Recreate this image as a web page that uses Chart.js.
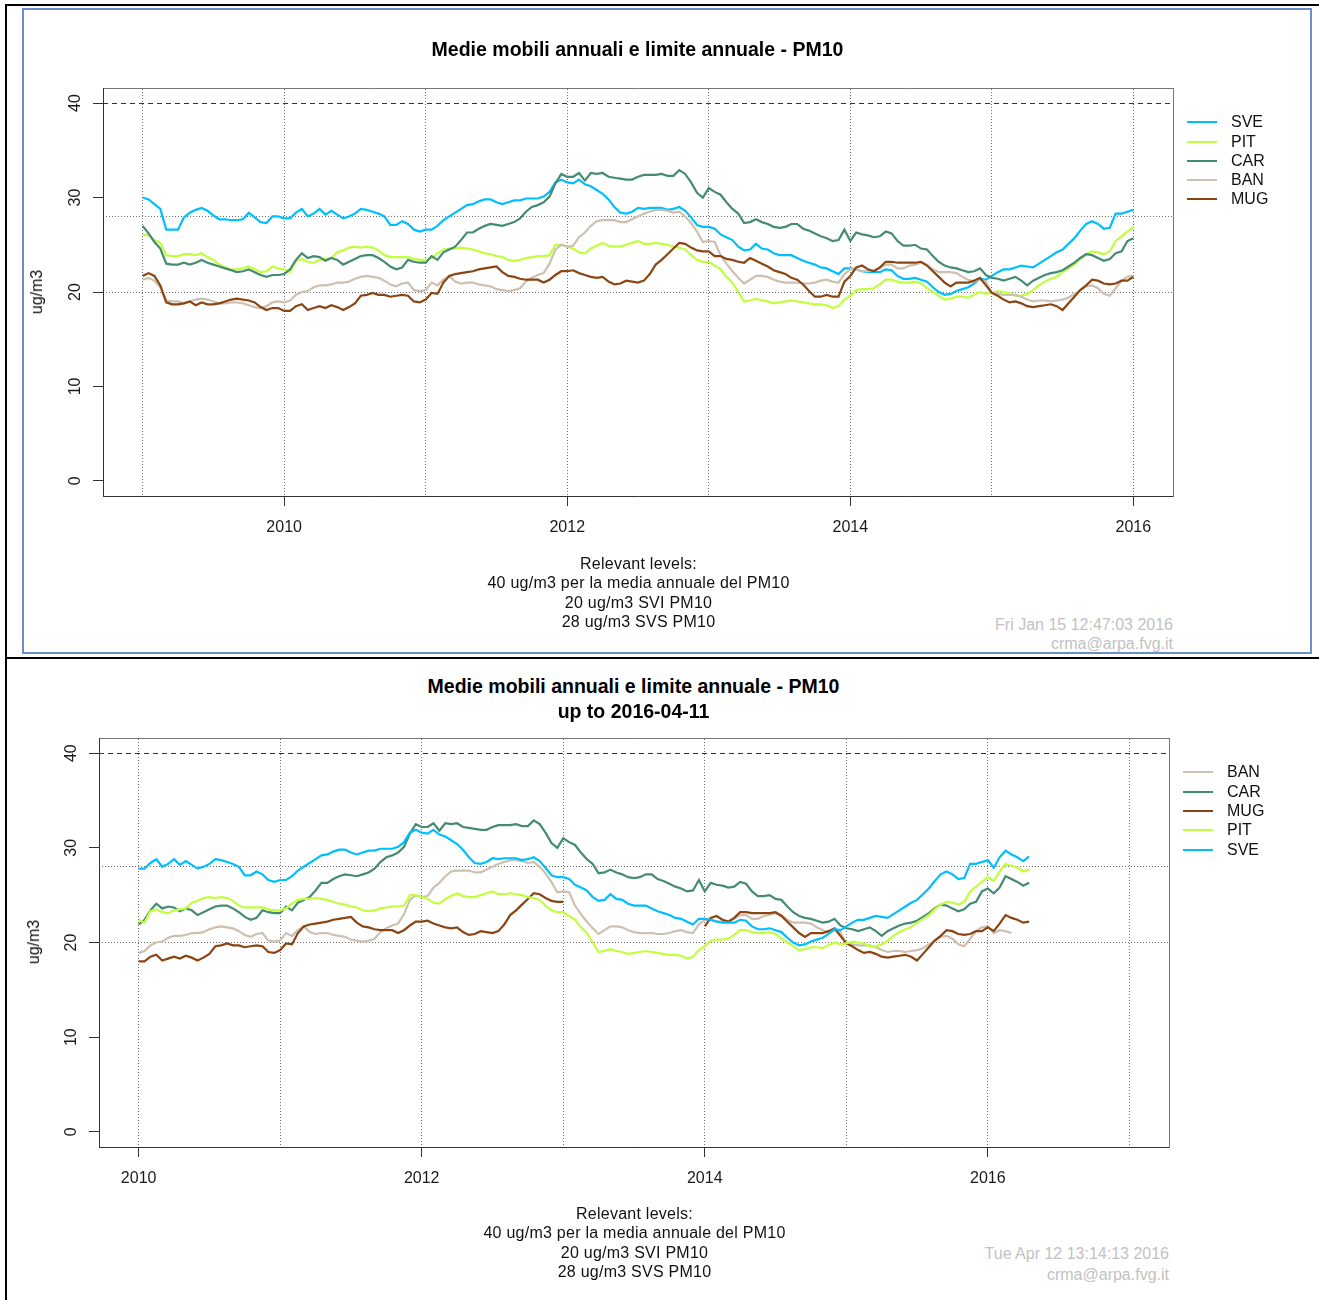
<!DOCTYPE html>
<html><head><meta charset="utf-8">
<script src="https://cdn.jsdelivr.net/npm/chart.js@4.4.1/dist/chart.umd.min.js"></script>
<style>
html,body{margin:0;padding:0;background:#fff;}
#page{position:relative;width:1319px;height:1300px;overflow:hidden;font-family:'Liberation Sans',Arial,Helvetica,sans-serif;color:#111;}
.box{position:absolute;}
.c{position:absolute;transform:translate(-50%,-50%);white-space:nowrap;line-height:1;}
.r{position:absolute;transform:translate(-100%,-50%);white-space:nowrap;line-height:1;}
.l{position:absolute;transform:translate(0,-50%);white-space:nowrap;line-height:1;}
canvas{position:absolute;}
</style></head>
<body><div id="page">
<div class="box" style="left:5px;top:4px;width:1314px;height:2px;background:#000"></div>
<div class="box" style="left:5px;top:4px;width:2px;height:1296px;background:#000"></div>
<div class="box" style="left:5px;top:657px;width:1314px;height:2px;background:#000"></div>
<div class="box" style="left:22px;top:8px;width:1290px;height:646px;border:2px solid #6a8dcc;box-sizing:border-box"></div>
<canvas id="c1" width="1200" height="500" style="left:23px;top:60px;width:1200px;height:500px"></canvas>
<canvas id="c2" width="1200" height="500" style="left:19px;top:710px;width:1200px;height:500px"></canvas>
</div>
<script>
// ---------- data ----------
const T0 = 2009, STEP = 1 / 24;            // semi-monthly samples starting 2009-01
const dates = Array.from({length: 176}, (_, i) => +(T0 + i * STEP).toFixed(4));

const stationsTop = ['SVE', 'PIT', 'CAR', 'BAN', 'MUG'];
const stationsBottom = ['BAN', 'CAR', 'MUG', 'PIT', 'SVE'];

const sve = [30.0,29.8,29.3,28.8,26.6,26.6,26.6,27.9,28.4,28.7,28.9,28.6,28.1,27.7,27.7,27.6,27.6,27.7,28.4,27.9,27.4,27.3,28.0,28.0,
 27.8,27.8,28.4,28.8,28.0,28.3,28.8,28.2,28.6,28.2,27.8,28.0,28.3,28.8,28.7,28.5,28.3,28.0,27.1,27.1,27.5,27.2,26.6,26.4,
 26.6,26.6,27.0,27.6,28.0,28.4,28.8,29.2,29.3,29.6,29.8,29.8,29.5,29.3,29.5,29.7,29.7,29.9,29.9,29.9,30.1,30.6,31.6,31.9,
 31.6,31.5,31.9,31.4,31.2,30.8,30.4,29.8,29.0,28.4,28.3,28.5,28.9,28.8,28.9,28.9,28.9,28.7,28.8,29.0,28.6,27.9,27.1,26.9,
 26.9,26.7,26.1,25.8,25.5,24.8,24.4,24.5,25.1,24.6,24.5,24.1,23.9,23.9,23.9,23.6,23.3,23.1,22.9,22.6,22.5,22.2,21.9,22.5,
 22.5,22.4,22.2,22.1,22.1,22.1,22.4,22.3,21.7,21.4,21.4,21.5,21.3,21.1,20.5,20.0,19.7,19.8,20.1,20.3,20.5,20.9,21.4,21.3,
 21.7,22.1,22.4,22.4,22.6,22.8,22.7,22.6,23.0,23.4,23.8,24.2,24.5,25.1,25.7,26.5,27.2,27.5,27.2,26.7,26.8,28.3,28.3,28.5,28.7];
const pit = [26.1,26.0,25.5,25.2,23.9,23.8,23.8,24.0,24.0,23.9,24.1,23.7,23.4,22.9,22.6,22.4,22.4,22.5,22.7,22.4,22.1,22.2,22.7,22.5,
 22.4,22.1,23.3,23.5,23.2,23.1,23.4,23.5,23.6,24.2,24.4,24.7,24.8,24.7,24.8,24.7,24.4,23.9,23.7,23.7,23.7,23.7,23.5,23.4,
 23.4,23.6,24.1,24.5,24.6,24.6,24.7,24.6,24.5,24.3,24.1,24.0,23.8,23.7,23.4,23.3,23.4,23.6,23.7,23.8,23.8,23.9,25.0,25.0,
 24.8,24.6,24.2,24.1,24.6,24.9,25.2,24.9,24.8,24.8,25.0,25.2,25.4,25.1,25.1,25.2,25.1,25.0,24.8,24.7,24.5,23.9,23.4,23.2,
 23.2,22.8,22.4,21.6,21.0,20.0,19.0,19.1,19.3,19.1,19.0,18.8,18.9,19.0,19.1,19.0,18.9,18.8,18.7,18.7,18.6,18.3,18.5,19.2,
 19.6,20.2,20.3,20.3,20.4,20.8,21.3,21.3,21.1,21.0,21.0,21.1,20.9,20.4,20.0,19.6,19.2,19.3,19.5,19.5,19.4,19.7,20.0,19.8,
 19.9,20.1,20.0,19.9,19.6,19.6,19.8,20.2,20.7,21.1,21.4,21.6,22.1,22.5,22.9,23.5,24.0,24.3,24.2,24.0,24.3,25.4,25.9,26.4,26.9];
const car = [27.0,26.2,25.3,24.6,23.0,22.9,22.9,23.1,22.9,23.1,23.4,23.1,22.9,22.7,22.5,22.3,22.1,22.2,22.4,22.1,21.8,21.6,21.8,21.8,
 21.9,22.4,23.4,24.1,23.6,23.8,23.7,23.3,23.6,23.4,22.9,23.2,23.5,23.8,23.9,23.9,23.6,23.2,22.7,22.4,22.6,23.4,23.2,23.1,
 23.1,23.8,23.4,24.2,24.5,24.8,25.5,26.3,26.3,26.7,27.0,27.2,27.1,27.0,27.2,27.4,27.8,28.5,29.0,29.2,29.5,30.1,31.5,32.5,
 32.2,32.2,32.6,31.8,32.6,32.5,32.6,32.2,32.1,32.0,31.9,31.9,32.2,32.4,32.4,32.4,32.5,32.3,32.3,32.9,32.5,31.6,30.5,30.0,
 31.0,30.6,30.3,29.5,28.8,28.3,27.3,27.4,27.7,27.4,27.2,26.9,26.8,26.9,27.2,27.2,26.7,26.5,26.2,25.9,25.7,25.4,25.5,26.6,
 25.4,26.3,26.1,26.0,25.8,25.9,26.4,26.2,25.4,24.9,24.9,25.0,24.6,24.5,23.8,23.2,22.8,22.6,22.5,22.3,22.1,22.2,22.5,21.8,
 21.5,21.4,21.2,21.4,21.6,21.2,20.7,21.2,21.5,21.8,22.0,22.1,22.3,22.7,23.1,23.6,24.0,23.9,23.6,23.3,23.5,24.1,24.3,25.4,25.7];
const ban = [21.3,21.5,21.2,20.5,19.1,19.0,19.0,18.8,19.0,19.2,19.3,19.2,19.0,18.8,18.8,18.9,18.9,18.8,18.6,18.4,18.3,18.5,18.9,19.0,
 18.9,19.1,19.7,20.0,20.1,20.5,20.7,20.7,20.8,21.0,21.0,21.1,21.4,21.6,21.7,21.6,21.5,21.2,20.8,20.6,20.9,21.0,20.2,20.1,
 20.2,21.0,20.7,21.3,21.7,21.1,20.9,21.0,21.0,20.8,20.7,20.6,20.3,20.2,20.1,20.2,20.4,21.1,21.5,21.8,22.0,23.0,24.5,25.0,
 24.8,24.9,25.8,26.3,27.0,27.5,27.6,27.6,27.6,27.4,27.4,27.7,28.0,28.3,28.5,28.7,28.7,28.6,28.4,28.5,28.0,27.3,26.4,25.3,
 25.4,25.3,23.9,23.0,22.2,21.5,20.9,21.3,21.7,21.7,21.6,21.3,21.1,21.0,21.0,21.0,20.9,20.9,21.0,21.2,21.3,21.1,21.0,21.9,
 22.4,22.4,22.2,22.2,22.3,22.5,22.9,22.9,22.5,22.5,22.8,22.9,23.1,22.9,22.4,22.1,22.1,22.1,22.0,21.6,21.3,21.1,21.3,21.1,
 19.9,19.8,19.7,19.7,19.7,19.5,19.2,19.0,19.1,19.1,19.0,19.1,19.2,19.4,19.8,20.2,20.6,20.7,20.4,19.8,19.6,20.4,21.2,21.6,21.7];
const mug = [21.7,22.0,21.7,20.7,18.9,18.7,18.7,18.8,19.0,18.6,18.9,18.7,18.7,18.8,19.0,19.2,19.3,19.2,19.1,18.9,18.4,18.1,18.3,18.3,
 18.0,18.0,18.5,18.7,18.1,18.3,18.5,18.3,18.6,18.4,18.1,18.4,18.8,19.6,19.7,19.9,19.7,19.7,19.5,19.6,19.7,19.6,19.0,18.9,
 19.2,19.9,19.8,21.0,21.7,21.9,22.0,22.1,22.2,22.4,22.5,22.6,22.7,22.1,21.7,21.6,21.4,21.3,21.3,21.3,21.0,21.3,21.8,22.2,
 22.2,22.3,22.0,21.8,21.6,21.5,21.6,21.1,20.8,20.9,21.2,21.1,21.0,21.2,21.9,22.9,23.4,24.0,24.6,25.2,25.1,24.7,24.4,24.3,
 24.3,23.8,23.8,23.5,23.4,23.2,23.1,23.6,23.3,23.0,22.7,22.3,22.1,21.9,21.5,21.3,20.8,20.1,19.5,19.5,19.7,19.5,19.5,21.1,
 21.7,22.6,22.8,22.4,22.2,22.6,23.2,23.2,23.1,23.1,23.1,23.1,23.2,22.8,22.2,21.6,21.0,20.6,21.0,21.0,21.0,21.2,21.5,20.7,
 19.9,19.6,19.2,18.9,19.0,18.8,18.5,18.4,18.5,18.6,18.7,18.5,18.1,18.8,19.5,20.2,20.7,21.3,21.2,20.9,20.8,20.9,21.2,21.2,21.6];

// extra samples after 2016-01 shown only in the second chart (up to 2016-04-11)
const sveExt = [27.9,29.0,29.7,29.3,29.0,28.6,29.1];
const pitExt = [26.5,27.5,28.3,28.1,27.9,27.5,27.7];
const carExt = [25.2,25.8,27.0,26.7,26.4,26.0,26.3];
const mugExt = [21.2,22.0,22.9,22.6,22.4,22.1,22.2];
const banExt = [21.0,21.3,21.2,21.0];
const mugGapBottom = [2013.0, 2014.0];      // MUG missing in the second chart

const colors = {SVE:'#00bfff', PIT:'#c0ff3e', CAR:'#458b74', BAN:'#cdc0b0', MUG:'#8b4513'};
const topTicks = [2010, 2012, 2014, 2016], topGrid = [2009,2010,2011,2012,2013,2014,2015,2016];
const botTicks = [2010, 2012, 2014, 2016], botGrid = [2010,2011,2012,2013,2014,2015,2016,2017];
const yTicks = [0, 10, 20, 30, 40];
const refDotted = [20, 28], refDashed = [40];

const titleTop = ['Medie mobili annuali e limite annuale - PM10'];
const titleBottom = ['Medie mobili annuali e limite annuale - PM10', 'up to 2016-04-11'];
const notes = ['Relevant levels:', '40 ug/m3 per la media annuale del PM10', '20 ug/m3 SVI PM10', '28 ug/m3 SVS PM10'];
const stampTop = ['Fri Jan 15 12:47:03 2016', 'crma@arpa.fvg.it'];
const stampBottom = ['Tue Apr 12 13:14:13 2016', 'crma@arpa.fvg.it'];
const yTitle = 'ug/m3';

// ---------- helpers ----------
const FONT = "'Liberation Sans', Arial, Helvetica, sans-serif";
const page = document.getElementById('page');
function txt(cls, x, y, s, style) {
  const d = document.createElement('div');
  d.className = cls; d.textContent = s;
  d.style.left = x + 'px'; d.style.top = y + 'px';
  Object.assign(d.style, style || {});
  page.appendChild(d); return d;
}

function buildChart(canvas, cfg) {
  const ymin = -1.6, ymax = 41.6;
  const tickList = a => s => { s.ticks = a.map(v => ({value: v})); };
  const hidden = {display: false};
  return new Chart(canvas, {
    type: 'line',
    data: {datasets: cfg.series.map(s => ({
      label: s.name,
      data: s.x.map((x, k) => ({x: x, y: s.y[k]})),
      borderColor: colors[s.name], backgroundColor: colors[s.name],
      borderWidth: 2.2, pointRadius: 0, fill: false, tension: 0, spanGaps: false, order: s.order
    }))},
    options: {
      responsive: false, animation: false, devicePixelRatio: 1, events: [],
      layout: {padding: cfg.padding},
      plugins: {legend: hidden, tooltip: {enabled: false}, title: hidden},
      scales: {
        x: {type: 'linear', position: 'bottom', min: cfg.xmin, max: cfg.xmax,
          afterBuildTicks: tickList(cfg.ticks),
          ticks: {autoSkip: false, maxRotation: 0, padding: 12, color: '#1a1a1a',
                  font: {family: FONT, size: 16}, callback: v => String(v)},
          grid: {drawOnChartArea: false, drawTicks: true, tickLength: 10, tickColor: '#333', tickWidth: 1},
          border: {display: true, color: '#333', width: 1},
          afterFit: s => { s.height = 50; }},
        xg: {type: 'linear', position: 'top', min: cfg.xmin, max: cfg.xmax,
          afterBuildTicks: tickList(cfg.grid),
          ticks: {display: false},
          grid: {drawOnChartArea: true, drawTicks: false, color: '#6e6e6e', lineWidth: 1},
          border: {display: true, color: '#777', width: 1, dash: [1, 2]},
          afterFit: s => { s.height = 0; }},
        y: {type: 'linear', position: 'left', min: ymin, max: ymax,
          afterBuildTicks: tickList(yTicks),
          ticks: {minRotation: 90, maxRotation: 90, crossAlign: 'center', padding: 9, color: '#1a1a1a',
                  font: {family: FONT, size: 16}, callback: v => String(v)},
          grid: {drawOnChartArea: false, drawTicks: true, tickLength: 10, tickColor: '#333', tickWidth: 1},
          border: {display: true, color: '#333', width: 1},
          afterFit: s => { s.width = 60; }},
        yg: {type: 'linear', position: 'right', min: ymin, max: ymax,
          afterBuildTicks: tickList(refDotted),
          ticks: {display: false},
          grid: {drawOnChartArea: true, drawTicks: false, color: '#6e6e6e', lineWidth: 1},
          border: {display: true, color: '#777', width: 1, dash: [1, 2]},
          afterFit: s => { s.width = 0; }},
        yd: {type: 'linear', position: 'right', min: ymin, max: ymax,
          afterBuildTicks: tickList(refDashed),
          ticks: {display: false},
          grid: {drawOnChartArea: true, drawTicks: false, color: '#333', lineWidth: 1},
          border: {display: false, dash: [5, 4]},
          afterFit: s => { s.width = 0; }}
      }
    }
  });
}

// ---------- chart 1 ----------
const topValues = {SVE: sve, PIT: pit, CAR: car, BAN: ban, MUG: mug};
buildChart(document.getElementById('c1'), {
  xmin: 2008.72, xmax: 2016.28, ticks: topTicks, grid: topGrid,
  padding: {left: 20, top: 28, right: 50, bottom: 14},
  series: stationsTop.map((n, k) => ({name: n, x: dates.slice(0, topValues[n].length), y: topValues[n], order: stationsTop.length - k}))
});

// ---------- chart 2 ----------
const ext = {SVE: sveExt, PIT: pitExt, CAR: carExt, BAN: banExt, MUG: mugExt};
const botSeries = stationsBottom.map((n, k) => {
  let y = topValues[n].slice(24).concat(ext[n]);
  const x = dates.slice(24, 24 + y.length);
  if (n === 'MUG') y = y.map((v, j) => (x[j] > mugGapBottom[0] && x[j] < mugGapBottom[1]) ? null : v);
  return {name: n, x: x, y: y, order: stationsBottom.length - k};
});
buildChart(document.getElementById('c2'), {
  xmin: 2009.72, xmax: 2017.28, ticks: botTicks, grid: botGrid,
  padding: {left: 20, top: 28, right: 50, bottom: 13},
  series: botSeries
});

// ---------- texts ----------
const bold = {fontWeight: 'bold', fontSize: '19.5px', color: '#000'};
const norm = {fontSize: '16px', color: '#111'};
const noteStyle = {fontSize: '16px', color: '#111', letterSpacing: '0.25px'};
const gray = {fontSize: '16px', color: '#c2c2c2'};

txt('c', 637.5, 49.5, titleTop[0], bold);
txt('c', 633.5, 687, titleBottom[0], bold);
txt('c', 633.5, 712, titleBottom[1], bold);

txt('c', 37, 291.5, yTitle, Object.assign({transform: 'translate(-50%,-50%) rotate(-90deg)'}, norm));
txt('c', 34, 942, yTitle, Object.assign({transform: 'translate(-50%,-50%) rotate(-90deg)'}, norm));

const notesYTop = [564, 583, 603, 622], notesYBot = [1214, 1233, 1253, 1272];
notes.forEach((s, i) => { txt('c', 638.5, notesYTop[i], s, noteStyle); txt('c', 634.5, notesYBot[i], s, noteStyle); });
txt('r', 1173, 625, stampTop[0], gray); txt('r', 1173, 644, stampTop[1], gray);
txt('r', 1169, 1254, stampBottom[0], gray); txt('r', 1169, 1275, stampBottom[1], gray);

function legend(names, x0, ys) {
  names.forEach((n, i) => {
    const ln = document.createElement('div');
    ln.className = 'box';
    Object.assign(ln.style, {left: x0 + 'px', top: (ys[i] - 1) + 'px', width: '30px', height: '2px', background: colors[n]});
    page.appendChild(ln);
    txt('l', x0 + 44, ys[i], n, norm);
  });
}
legend(stationsTop, 1187, [122, 142, 161, 180, 199]);
legend(stationsBottom, 1183, [772, 792, 811, 830, 850]);
</script>
</body></html>
